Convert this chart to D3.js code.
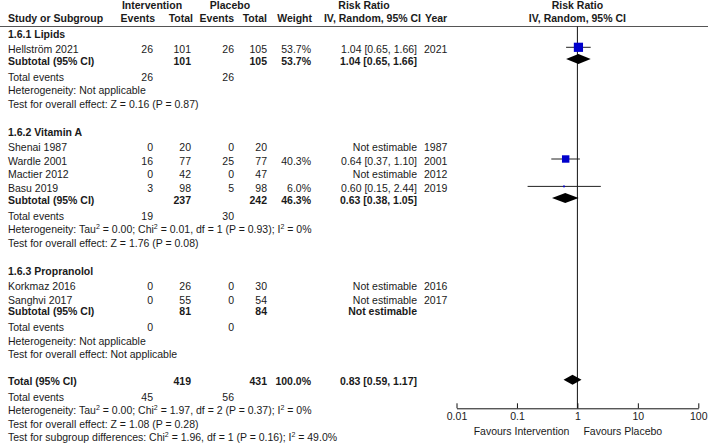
<!DOCTYPE html>
<html>
<head>
<meta charset="utf-8">
<script src="https://cdn.jsdelivr.net/npm/d3@7"></script>
<style>
  body { margin: 0; background: #fff; }
  text { font-family: "Liberation Sans", Arial, Helvetica, sans-serif; font-size: 10.5px; fill: #1a1a1a; }
  .b { font-weight: bold; }
</style>
</head>
<body>
<script>
// study level data
const groups = ['1.6.1 Lipids', '1.6.2 Vitamin A', '1.6.3 Propranolol']
const studyNames = ['Hellström 2021', 'Shenai 1987', 'Wardle 2001', 'Mactier 2012', 'Basu 2019', 'Korkmaz 2016', 'Sanghvi 2017']
const studyGroup = [0, 1, 1, 1, 1, 2, 2]
const intEvents = [26, 0, 16, 0, 3, 0, 0]
const intTotal = [101, 20, 77, 42, 98, 26, 55]
const plcEvents = [26, 0, 25, 0, 5, 0, 0]
const plcTotal = [105, 20, 77, 47, 98, 30, 54]
const weights = [53.7, null, 40.3, null, 6.0, null, null]
const rr = [1.04, null, 0.64, null, 0.60, null, null]
const ciLow = [0.65, null, 0.37, null, 0.15, null, null]
const ciHigh = [1.66, null, 1.10, null, 2.44, null, null]
const years = [2021, 1987, 2001, 2012, 2019, 2016, 2017]

// subgroup totals
const subIntTotal = [101, 237, 81]
const subPlcTotal = [105, 242, 84]
const subIntEvents = [26, 19, 0]
const subPlcEvents = [26, 30, 0]
const subWeight = [53.7, 46.3, null]
const subRR = [1.04, 0.63, null]
const subLow = [0.65, 0.38, null]
const subHigh = [1.66, 1.05, null]
const subHet = [
  'Heterogeneity: Not applicable',
  'Heterogeneity: Tau^2 = 0.00; Chi^2 = 0.01, df = 1 (P = 0.93); I^2 = 0%',
  'Heterogeneity: Not applicable'
]
const subTest = [
  'Test for overall effect: Z = 0.16 (P = 0.87)',
  'Test for overall effect: Z = 1.76 (P = 0.08)',
  'Test for overall effect: Not applicable'
]

// overall
const totInt = 419, totPlc = 431, totWeight = 100.0
const totRR = 0.83, totLow = 0.59, totHigh = 1.17
const totIntEvents = 45, totPlcEvents = 56
const totTexts = [
  'Heterogeneity: Tau^2 = 0.00; Chi^2 = 1.97, df = 2 (P = 0.37); I^2 = 0%',
  'Test for overall effect: Z = 1.08 (P = 0.28)',
  'Test for subgroup differences: Chi^2 = 1.96, df = 1 (P = 0.16); I^2 = 49.0%'
]
const axisTicks = [0.01, 0.1, 1, 10, 100]
const favours = ['Favours Intervention', 'Favours Placebo']

const WIDTH = 708
const HEIGHT = 444
const svg = d3.select('body').append('svg').attr('width', WIDTH).attr('height', HEIGHT)

const x = d3.scaleLog().domain([0.01, 100]).range([456.5, 698.3])
const box = d3.scalePow().exponent(0.75).domain([0, 53.7]).range([0, 9.2])
const f2 = d3.format('.2f')
const f1 = d3.format('.1f')

// column anchors
const COL = { name: 8, ie: 153, it: 191, pe: 234, pt: 267, w: 311, rr: 417, yr: 424 }

// build the row list, y is accumulated with gaps
const rows = []
let y = 34
const push = (gap, r) => { y += gap; r.y = y; rows.push(r) }
groups.forEach((g, gi) => {
  push(gi === 0 ? 0 : 28, { kind: 'heading', label: g })
  studyNames.forEach((n, i) => {
    if (studyGroup[i] !== gi) return
    const first = rows[rows.length - 1].kind === 'heading'
    push(first ? 15.3 : 13.7, { kind: 'study', i })
  })
  push(11.7, { kind: 'subtotal', gi })
  push(16, { kind: 'events', a: subIntEvents[gi], b: subPlcEvents[gi] })
  push(13.3, { kind: 'note', label: subHet[gi] })
  push(13.7, { kind: 'note', label: subTest[gi] })
})
push(27, { kind: 'total' })
push(15.5, { kind: 'events', a: totIntEvents, b: totPlcEvents })
totTexts.forEach((t, i) => push(13.4, { kind: 'note', label: t }))

const AXIS_Y = 408.3
const HEAD_LINE = 26.5

// header
const head = svg.append('g')
const htext = (tx, ty, s, anchor) => head.append('text').attr('class', 'b')
  .attr('x', tx).attr('y', ty).attr('dy', '0.35em').attr('text-anchor', anchor).text(s)
htext(152, 5.5, 'Intervention', 'middle')
htext(230, 5.5, 'Placebo', 'middle')
htext(364, 5.5, 'Risk Ratio', 'middle')
htext(x(1), 5.5, 'Risk Ratio', 'middle')
htext(COL.name, 18, 'Study or Subgroup', 'start')
htext(COL.ie + 2, 18, 'Events', 'end')
htext(COL.it + 2, 18, 'Total', 'end')
htext(COL.pe, 18, 'Events', 'end')
htext(COL.pt, 18, 'Total', 'end')
htext(COL.w + 1, 18, 'Weight', 'end')
htext(COL.rr + 4, 18, 'IV, Random, 95% CI', 'end')
htext(COL.yr + 1, 18, 'Year', 'start')
htext(x(1), 18, 'IV, Random, 95% CI', 'middle')

svg.append('line').attr('x1', 0).attr('x2', WIDTH).attr('y1', HEAD_LINE).attr('y2', HEAD_LINE)
  .attr('stroke', '#555').attr('stroke-width', 1)

// null line
svg.append('line').attr('x1', x(1)).attr('x2', x(1)).attr('y1', HEAD_LINE).attr('y2', AXIS_Y)
  .attr('stroke', '#111').attr('stroke-width', 1)

// text with ^2 superscripts
function rich(sel, s) {
  const parts = s.split('^2')
  parts.forEach((p, k) => {
    sel.append('tspan').text(p)
    if (k < parts.length - 1) {
      sel.append('tspan').attr('font-size', '7px').attr('baseline-shift', '4px').text('2')
    }
  })
}

const body = svg.append('g')
const cell = (ry, tx, s, anchor, bold) => body.append('text')
  .attr('class', bold ? 'b' : null)
  .attr('x', tx).attr('y', ry).attr('dy', '0.35em').attr('text-anchor', anchor).text(s)

const MARK_DY = -2

function diamond(ry, est, lo, hi) {
  const yy = ry + MARK_DY
  const pts = [[x(lo), yy], [x(est), yy - 5], [x(hi), yy], [x(est), yy + 5]]
  body.append('path').attr('d', d3.line()(pts) + 'Z').attr('fill', '#000')
}

rows.forEach(r => {
  if (r.kind === 'heading') {
    cell(r.y, COL.name, r.label, 'start', true)
  } else if (r.kind === 'study') {
    const i = r.i
    cell(r.y, COL.name, studyNames[i], 'start')
    cell(r.y, COL.ie, intEvents[i], 'end')
    cell(r.y, COL.it, intTotal[i], 'end')
    cell(r.y, COL.pe, plcEvents[i], 'end')
    cell(r.y, COL.pt, plcTotal[i], 'end')
    if (weights[i] != null) cell(r.y, COL.w, f1(weights[i]) + '%', 'end')
    cell(r.y, COL.rr, rr[i] == null ? 'Not estimable'
      : `${f2(rr[i])} [${f2(ciLow[i])}, ${f2(ciHigh[i])}]`, 'end')
    cell(r.y, COL.yr, years[i], 'start')
    if (rr[i] != null) {
      const yy = r.y + MARK_DY
      body.append('line').attr('x1', x(ciLow[i])).attr('x2', x(ciHigh[i]))
        .attr('y1', yy).attr('y2', yy).attr('stroke', '#222').attr('stroke-width', 1)
      const s = box(weights[i])
      body.append('rect').attr('x', x(rr[i]) - s / 2).attr('y', yy - s / 2)
        .attr('width', s).attr('height', s).attr('fill', '#0000cc')
    }
  } else if (r.kind === 'subtotal') {
    const gi = r.gi
    cell(r.y, COL.name, 'Subtotal (95% CI)', 'start', true)
    cell(r.y, COL.it, subIntTotal[gi], 'end', true)
    cell(r.y, COL.pt, subPlcTotal[gi], 'end', true)
    if (subWeight[gi] != null) cell(r.y, COL.w, f1(subWeight[gi]) + '%', 'end', true)
    cell(r.y, COL.rr, subRR[gi] == null ? 'Not estimable'
      : `${f2(subRR[gi])} [${f2(subLow[gi])}, ${f2(subHigh[gi])}]`, 'end', true)
    if (subRR[gi] != null) diamond(r.y, subRR[gi], subLow[gi], subHigh[gi])
  } else if (r.kind === 'events') {
    cell(r.y, COL.name, 'Total events', 'start')
    cell(r.y, COL.ie, r.a, 'end')
    cell(r.y, COL.pe, r.b, 'end')
  } else if (r.kind === 'note') {
    rich(body.append('text').attr('x', COL.name).attr('y', r.y).attr('dy', '0.35em'), r.label)
  } else if (r.kind === 'total') {
    cell(r.y, COL.name, 'Total (95% CI)', 'start', true)
    cell(r.y, COL.it, totInt, 'end', true)
    cell(r.y, COL.pt, totPlc, 'end', true)
    cell(r.y, COL.w, f1(totWeight) + '%', 'end', true)
    cell(r.y, COL.rr, `${f2(totRR)} [${f2(totLow)}, ${f2(totHigh)}]`, 'end', true)
    diamond(r.y, totRR, totLow, totHigh)
  }
})

// log axis
const axis = d3.axisBottom(x).tickValues(axisTicks).tickSize(0).tickPadding(4)
  .tickFormat(d => String(d))
const ag = svg.append('g').attr('transform', `translate(0,${AXIS_Y})`).call(axis)
ag.select('.domain').attr('stroke', '#111')
ag.selectAll('.tick text').attr('font-size', null).attr('font-family', null).attr('fill', null)
ag.selectAll('.tick').append('line').attr('y1', 0).attr('y2', -5).attr('stroke', '#111')

svg.append('text').attr('x', x(1) - 8).attr('y', 431).attr('dy', '0.35em')
  .attr('text-anchor', 'end').text(favours[0])
svg.append('text').attr('x', x(1) + 6).attr('y', 431).attr('dy', '0.35em')
  .attr('text-anchor', 'start').text(favours[1])
</script>
</body>
</html>
